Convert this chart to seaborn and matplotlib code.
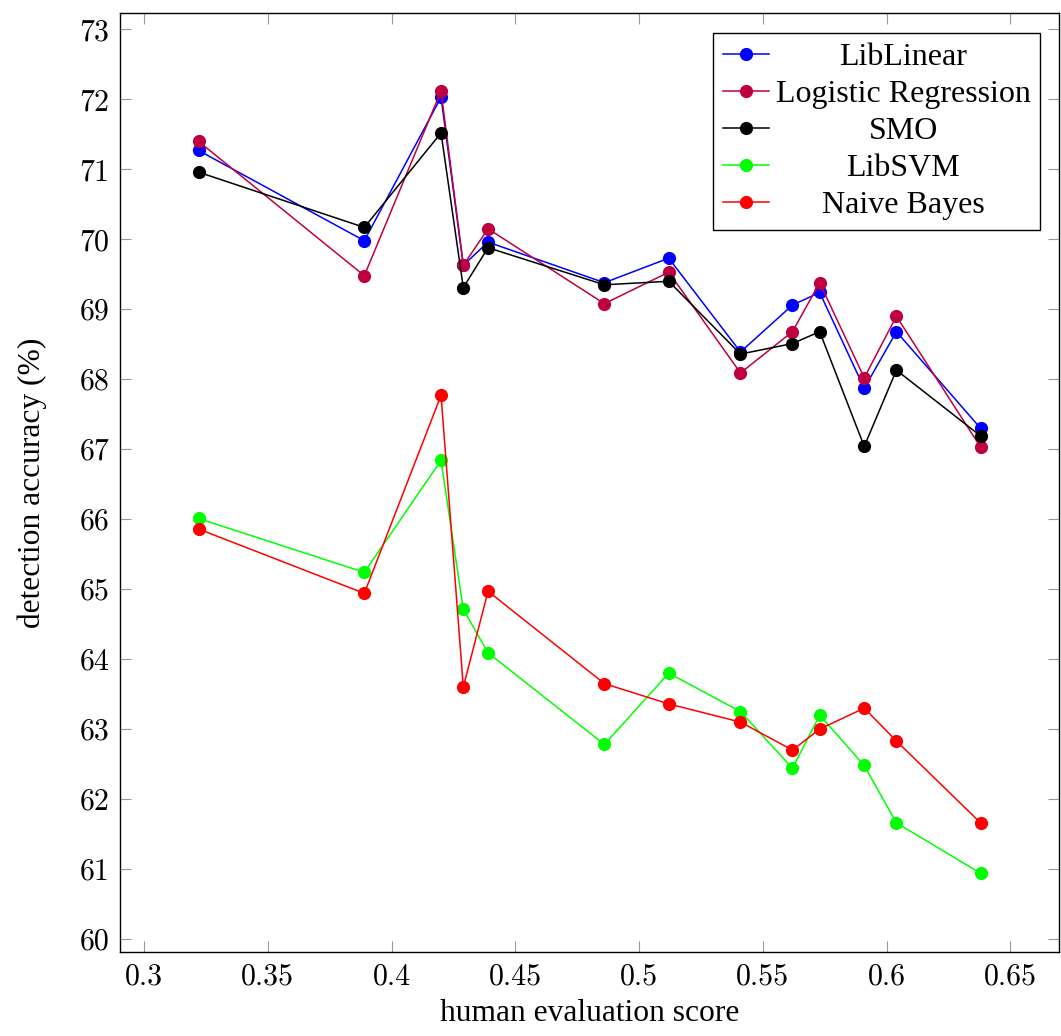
import matplotlib
matplotlib.use("Agg")
import matplotlib.pyplot as plt
from matplotlib.lines import Line2D
import pandas as pd
import seaborn as sns

# human evaluation score for each test condition
scores = [0.322, 0.389, 0.420, 0.429, 0.439, 0.486, 0.512,
          0.541, 0.562, 0.573, 0.591, 0.604, 0.638]

# detection accuracy (%) per classifier
liblinear = [71.27, 69.98, 72.03, 69.63, 69.96, 69.38, 69.73,
             68.39, 69.06, 69.24, 67.87, 68.68, 67.30]
logistic = [71.40, 69.48, 72.12, 69.63, 70.15, 69.08, 69.53,
            68.09, 68.68, 69.38, 68.02, 68.90, 67.03]
smo = [70.96, 70.17, 71.52, 69.31, 69.88, 69.35, 69.40,
       68.36, 68.51, 68.68, 67.04, 68.13, 67.19]
libsvm = [66.01, 65.24, 66.84, 64.71, 64.09, 62.78, 63.80,
          63.25, 62.44, 63.20, 62.48, 61.66, 60.94]
naive_bayes = [65.86, 64.94, 67.77, 63.60, 64.97, 63.65, 63.36,
               63.10, 62.70, 63.00, 63.30, 62.83, 61.66]

models = ["LibLinear", "Logistic Regression", "SMO", "LibSVM", "Naive Bayes"]
series = [liblinear, logistic, smo, libsvm, naive_bayes]
colors = ["#0000FF", "#BF0040", "#000000", "#00FF00", "#FF0000"]

x_ticks = [0.3, 0.35, 0.4, 0.45, 0.5, 0.55, 0.6, 0.65]
x_tick_labels = ["0.3", "0.35", "0.4", "0.45", "0.5", "0.55", "0.6", "0.65"]
y_ticks = list(range(60, 74))
y_tick_labels = [str(v) for v in y_ticks]

df = pd.DataFrame({
    "score": scores * len(models),
    "accuracy": [v for s in series for v in s],
    "model": [m for m in models for _ in scores],
})

W, H = 1061, 1036
fig = plt.figure(figsize=(W / 100, H / 100), dpi=100)
ax = fig.add_axes([120.3 / W, 1 - 952.3 / H, (1059 - 120.3) / W, (952.3 - 13.3) / H])

MS = 9.5
LW = 1.1
sns.lineplot(data=df, x="score", y="accuracy", hue="model", hue_order=models,
             palette=colors, estimator=None, sort=False, marker="o",
             markersize=MS, markeredgewidth=0, linewidth=LW, legend=False, ax=ax)

ax.set_xlim(0.2904, 0.6697)
ax.set_ylim(59.81, 73.23)

tick_font = dict(family="cmr10", size=21.5)
ax.set_xticks(x_ticks)
ax.set_xticklabels(x_tick_labels, fontdict=tick_font)
ax.set_yticks(y_ticks)
ax.set_yticklabels(y_tick_labels, fontdict=tick_font)
ax.tick_params(direction="in", length=8, width=0.8, color="#999999",
               top=True, right=True, pad=8)

for sp in ax.spines.values():
    sp.set_color("black")
    sp.set_linewidth(1.0)

label_font = dict(family="Liberation Serif", size=22.7)
ax.set_xlabel("human evaluation score", fontdict=label_font, labelpad=6)
ax.set_ylabel("detection accuracy (%)", fontdict=label_font, labelpad=23)

handles = [Line2D([0], [0], color=c, marker="o", markersize=MS,
                  markeredgewidth=0, linewidth=LW)
           for c in colors]
leg = ax.legend(handles, models, loc="upper right", bbox_to_anchor=(0.98, 0.979),
                borderaxespad=0, prop={"family": "Liberation Serif", "size": 23},
                handlelength=1.45, handletextpad=0.2, labelspacing=0.24,
                borderpad=0.3, fancybox=False, framealpha=1.0, edgecolor="black")
leg.get_frame().set_linewidth(1.0)

# center the legend entries within their column
fig.canvas.draw()
renderer = fig.canvas.get_renderer()
texts = leg.get_texts()
widths = [t.get_window_extent(renderer).width for t in texts]
wmax = max(widths)
for t, w in zip(texts, widths):
    t.set_x((wmax - w) / 2)

fig.savefig("out.png", dpi=100)
